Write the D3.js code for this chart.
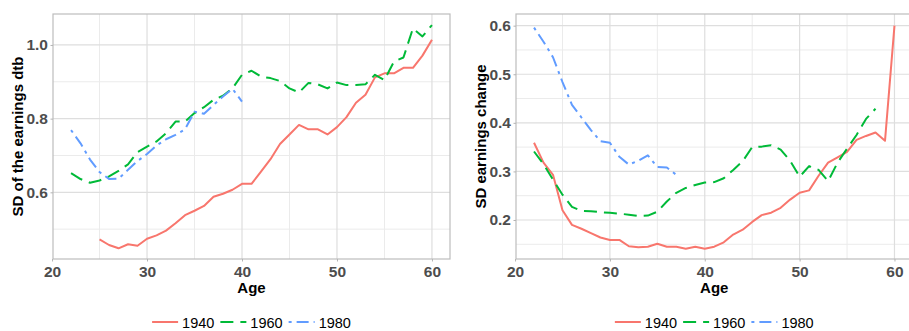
<!DOCTYPE html>
<html>
<head>
<meta charset="utf-8">
<script src="https://cdn.jsdelivr.net/npm/d3@7"></script>
<style>
  body { margin: 0; background: #fff; }
  svg { display: block; font-family: "Liberation Sans", Arial, sans-serif; }
</style>
</head>
<body>
<svg id="chart" width="909" height="331"></svg>
<script>
// ages 22..60, one value per age (null = no data for that cohort)
const ages = [22, 23, 24, 25, 26, 27, 28, 29, 30, 31, 32, 33, 34, 35, 36, 37, 38, 39, 40,
              41, 42, 43, 44, 45, 46, 47, 48, 49, 50, 51, 52, 53, 54, 55, 56, 57, 58, 59, 60];
const cohorts = ["1940", "1960", "1980"];
const colours = ["#F8766D", "#00BA38", "#619CFF"];
const dashes = [null, "13,7", "3,5,12,5"];

const xTicks = [20, 30, 40, 50, 60];
const xMinor = [25, 35, 45, 55];
const dtbTicks = [0.6, 0.8, 1.0];
const dtbMinor = [0.5, 0.7, 0.9];
const changeTicks = [0.2, 0.3, 0.4, 0.5, 0.6];
const changeMinor = [0.15, 0.25, 0.35, 0.45, 0.55];

// SD of the earnings dtb
const dtb1940 = [null, null, null, 0.472, 0.457, 0.448, 0.459, 0.455, 0.474, 0.483, 0.496, 0.516, 0.538,
                 0.550, 0.563, 0.588, 0.596, 0.607, 0.623, 0.623, 0.656, 0.690, 0.731, 0.757, 0.783,
                 0.771, 0.771, 0.757, 0.777, 0.804, 0.843, 0.865, 0.912, 0.923, 0.923, 0.938, 0.938,
                 0.971, 1.014];
const dtb1960 = [0.652, 0.636, 0.626, 0.632, 0.643, 0.658, 0.676, 0.709, 0.724, 0.738, 0.760, 0.792, 0.792,
                 0.815, 0.831, 0.851, 0.862, 0.882, 0.919, 0.930, 0.914, 0.910, 0.902, 0.882, 0.871,
                 0.897, 0.893, 0.882, 0.898, 0.891, 0.891, 0.893, 0.919, 0.905, 0.955, 0.966, 1.045,
                 1.023, 1.054];
const dtb1980 = [0.769, 0.733, 0.689, 0.655, 0.636, 0.637, 0.661, 0.685, 0.704, 0.727, 0.744, 0.756, 0.771,
                 0.819, 0.813, 0.837, 0.860, 0.881, 0.846, null, null, null, null, null, null,
                 null, null, null, null, null, null, null, null, null, null, null, null, null, null];

// SD earnings change
const chg1940 = [0.359, 0.318, 0.293, 0.220, 0.190, 0.182, 0.173, 0.164, 0.159, 0.159, 0.146, 0.144, 0.145,
                 0.151, 0.145, 0.145, 0.141, 0.145, 0.141, 0.145, 0.154, 0.170, 0.180, 0.196, 0.210,
                 0.215, 0.225, 0.242, 0.256, 0.261, 0.291, 0.318, 0.329, 0.340, 0.365, 0.373, 0.380,
                 0.363, 0.600];
const chg1960 = [0.341, 0.315, 0.283, 0.252, 0.227, 0.219, 0.218, 0.216, 0.215, 0.213, 0.211, 0.208, 0.209,
                 0.217, 0.238, 0.256, 0.266, 0.272, 0.277, 0.278, 0.286, 0.303, 0.321, 0.350, 0.351,
                 0.354, 0.345, 0.322, 0.289, 0.311, 0.303, 0.280, 0.318, 0.347, 0.375, 0.408, 0.429,
                 null, null];
const chg1980 = [0.596, 0.567, 0.535, 0.484, 0.437, 0.411, 0.385, 0.362, 0.359, 0.330, 0.314, 0.322, 0.333,
                 0.309, 0.308, 0.293, null, null, null, null, null, null, null, null, null,
                 null, null, null, null, null, null, null, null, null, null, null, null, null, null];

const svg = d3.select("#chart");
const plotTop = 14, plotBottom = 259;

function drawPanel(id, left, right, yDomain, yTicks, yMinor, title, titleX, series) {
  let x = d3.scaleLinear().domain([20.1, 61.9]).range([left, right]);
  let y = d3.scaleLinear().domain(yDomain).range([plotBottom, plotTop]);

  let g = svg.append("g");

  g.append("clipPath").attr("id", "clip" + id)
    .append("rect")
      .attr("x", left).attr("y", plotTop)
      .attr("width", right - left).attr("height", plotBottom - plotTop);

  // grid
  let grid = g.append("g").attr("fill", "none");
  grid.selectAll(".vmin").data(xMinor).join("line")
      .attr("x1", d => x(d)).attr("x2", d => x(d))
      .attr("y1", plotTop).attr("y2", plotBottom)
      .attr("stroke", "#EBEBEB").attr("stroke-width", 1);
  grid.selectAll(".hmin").data(yMinor).join("line")
      .attr("x1", left).attr("x2", right)
      .attr("y1", d => y(d)).attr("y2", d => y(d))
      .attr("stroke", "#EBEBEB").attr("stroke-width", 1);
  grid.selectAll(".vmaj").data(xTicks.filter(d => x(d) >= left)).join("line")
      .attr("x1", d => x(d)).attr("x2", d => x(d))
      .attr("y1", plotTop).attr("y2", plotBottom)
      .attr("stroke", "#DEDEDE").attr("stroke-width", 1.2);
  grid.selectAll(".hmaj").data(yTicks).join("line")
      .attr("x1", left).attr("x2", right)
      .attr("y1", d => y(d)).attr("y2", d => y(d))
      .attr("stroke", "#DEDEDE").attr("stroke-width", 1.2);

  // lines
  let line = d3.line()
      .defined(d => d[1] != null)
      .x(d => x(d[0]))
      .y(d => y(d[1]));

  g.append("g")
      .attr("clip-path", `url(#clip${id})`)
      .attr("fill", "none")
      .attr("stroke-width", 2)
      .attr("stroke-linejoin", "round")
      .attr("stroke-linecap", "butt")
    .selectAll("path")
    .data(series)
    .join("path")
      .attr("stroke", (d, i) => colours[i])
      .attr("stroke-dasharray", (d, i) => dashes[i])
      .attr("d", d => line(ages.map((a, j) => [a, d[j]])));

  // border
  g.append("rect")
      .attr("x", left).attr("y", plotTop)
      .attr("width", right - left).attr("height", plotBottom - plotTop)
      .attr("fill", "none")
      .attr("stroke", "#BDBDBD")
      .attr("stroke-width", 1.2);

  // x axis
  let xAxis = g.append("g")
      .attr("transform", `translate(0,${plotBottom})`)
      .call(d3.axisBottom(x).tickValues(xTicks).tickSize(2.5).tickPadding(4).tickFormat(d3.format("d")));
  xAxis.select(".domain").remove();
  xAxis.selectAll(".tick line").attr("stroke", "#B3B3B3");
  xAxis.selectAll(".tick text")
      .attr("font-family", "Liberation Sans, Arial, sans-serif")
      .attr("font-size", 15.5).attr("font-weight", "bold").attr("fill", "#4D4D4D");

  // y axis
  let yAxis = g.append("g")
      .attr("transform", `translate(${left},0)`)
      .call(d3.axisLeft(y).tickValues(yTicks).tickSize(2.5).tickPadding(2.5).tickFormat(d3.format(".1f")));
  yAxis.select(".domain").remove();
  yAxis.selectAll(".tick line").attr("stroke", "#B3B3B3");
  yAxis.selectAll(".tick text")
      .attr("font-family", "Liberation Sans, Arial, sans-serif")
      .attr("font-size", 15.5).attr("font-weight", "bold").attr("fill", "#4D4D4D");

  let centre = (left + right) / 2;

  g.append("text")
      .attr("x", centre).attr("y", 293)
      .attr("text-anchor", "middle")
      .attr("font-size", 15).attr("font-weight", "bold")
      .text("Age");

  g.append("text")
      .attr("transform", `translate(${titleX},${(plotTop + plotBottom) / 2}) rotate(-90)`)
      .attr("dy", "0.35em")
      .attr("text-anchor", "middle")
      .attr("font-size", 15).attr("font-weight", "bold")
      .text(title);

  // legend
  let legend = g.append("g");
  let cursor = 0;
  cohorts.forEach((c, i) => {
    let item = legend.append("g").attr("transform", `translate(${cursor},0)`);
    item.append("line")
        .attr("x1", 0).attr("x2", 26)
        .attr("y1", 322).attr("y2", 322)
        .attr("stroke", colours[i]).attr("stroke-width", 2)
        .attr("stroke-dasharray", dashes[i]);
    let t = item.append("text")
        .attr("x", 30).attr("y", 327.5)
        .attr("font-size", 14.5)
        .text(c);
    cursor += 30 + t.node().getComputedTextLength() + 6;
  });
  let total = cursor - 6;
  legend.attr("transform", `translate(${centre - total / 2},0)`);
}

drawPanel("a", 53, 450, [0.419, 1.084], dtbTicks, dtbMinor, "SD of the earnings dtb", 17.5,
  [dtb1940, dtb1960, dtb1980]);
drawPanel("b", 516, 912.5, [0.1197, 0.624], changeTicks, changeMinor, "SD earnings change", 481,
  [chg1940, chg1960, chg1980]);
</script>
</body>
</html>
